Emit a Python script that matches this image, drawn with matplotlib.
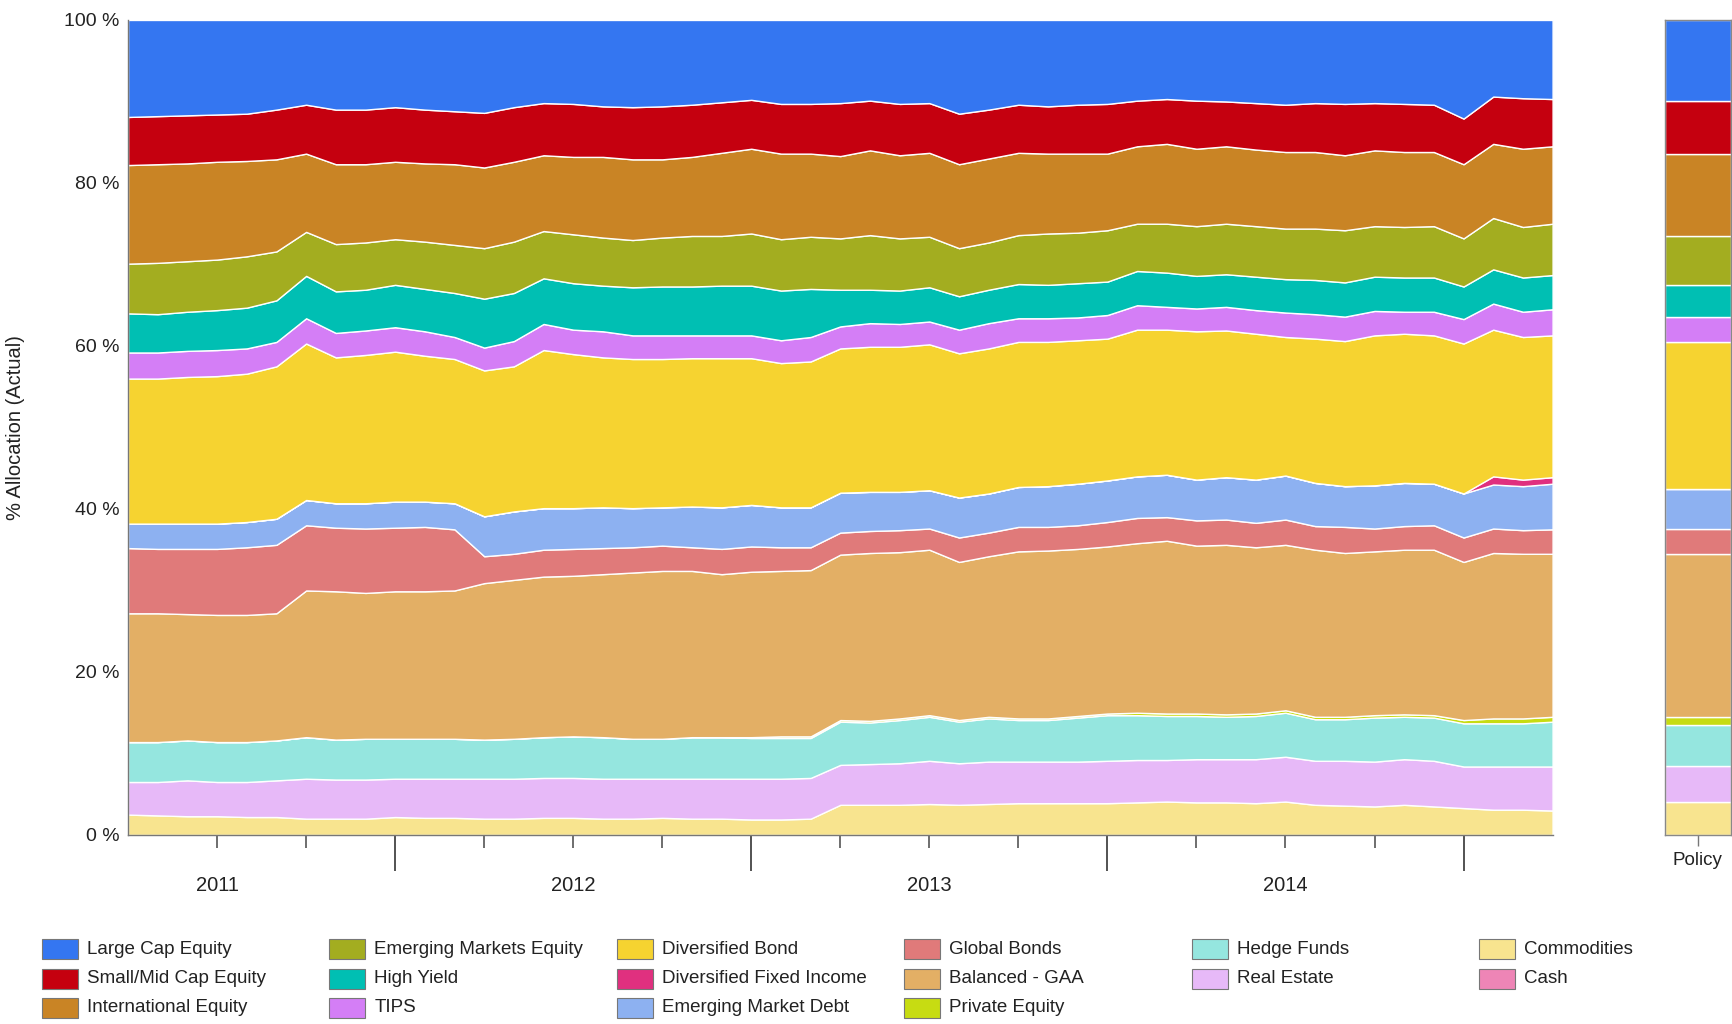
import numpy as np, pandas as pd, matplotlib
matplotlib.use('Agg')
import matplotlib.pyplot as plt
from matplotlib import font_manager
from matplotlib.patches import Rectangle
import matplotlib.transforms as mtransforms

names = {f.name for f in font_manager.fontManager.ttflist}
plt.rcParams['font.family'] = ['Liberation Sans' if 'Liberation Sans' in names else 'DejaVu Sans']

# monthly observations, Mar 2011 .. Mar 2015
months = pd.period_range('2011-03', '2015-03', freq='M')

categories = ['Large Cap Equity', 'Small/Mid Cap Equity', 'International Equity',
              'Emerging Markets Equity', 'High Yield', 'TIPS',
              'Diversified Bond', 'Diversified Fixed Income', 'Emerging Market Debt',
              'Global Bonds', 'Balanced - GAA', 'Private Equity',
              'Hedge Funds', 'Real Estate', 'Commodities', 'Cash']
colors = ['#3476F1', '#C5000F', '#C98425', '#A3AD20', '#00BFB3', '#D47EF6',
          '#F6D330', '#E0307F', '#8DB1F1', '#E07A7A', '#E3AF65', '#C7DC12',
          '#95E6DF', '#E7B9F8', '#F8E48F', '#EE85B6']

large_cap = [11.9, 11.8, 11.7, 11.6, 11.5, 11.0, 10.4, 11.0, 11.0, 10.7,
             11.0, 11.2, 11.4, 10.7, 10.2, 10.3, 10.6, 10.7, 10.6, 10.4,
             10.1, 9.8, 10.3, 10.3, 10.2, 9.9, 10.3, 10.2, 11.5, 11.0,
             10.4, 10.6, 10.4, 10.3, 9.9, 9.7, 9.9, 10.0, 10.2, 10.4,
             10.2, 10.3, 10.2, 10.3, 10.4, 12.1, 9.4, 9.6, 9.7]
small_mid = [5.9, 5.9, 5.9, 5.8, 5.8, 6.1, 6.0, 6.7, 6.7, 6.7,
             6.6, 6.5, 6.7, 6.7, 6.4, 6.5, 6.2, 6.4, 6.5, 6.4,
             6.2, 6.0, 6.1, 6.1, 6.5, 6.1, 6.3, 6.1, 6.2, 6.0,
             5.9, 5.8, 6.0, 6.1, 5.6, 5.5, 5.9, 5.5, 5.7, 5.8,
             6.0, 6.3, 5.8, 5.9, 5.8, 5.6, 5.8, 6.2, 5.8]
international = [12.1, 12.1, 12.0, 12.0, 11.7, 11.3, 9.6, 9.8, 9.6, 9.5,
                 9.6, 9.9, 9.9, 9.8, 9.3, 9.5, 9.9, 9.9, 9.6, 9.7,
                 10.2, 10.4, 10.5, 10.2, 10.1, 10.4, 10.2, 10.3, 10.3, 10.3,
                 10.1, 9.8, 9.7, 9.4, 9.5, 9.8, 9.5, 9.5, 9.4, 9.4,
                 9.4, 9.2, 9.3, 9.2, 9.1, 9.1, 9.1, 9.6, 9.5]
em_equity = [6.1, 6.3, 6.2, 6.2, 6.3, 6.0, 5.4, 5.8, 5.8, 5.6,
             5.8, 5.9, 6.2, 6.3, 5.8, 6.0, 5.9, 5.8, 6.0, 6.2,
             6.1, 6.4, 6.3, 6.4, 6.3, 6.7, 6.4, 6.2, 5.9, 5.8,
             6.0, 6.3, 6.2, 6.3, 5.8, 6.0, 6.1, 6.2, 6.2, 6.2,
             6.3, 6.4, 6.2, 6.2, 6.3, 5.9, 6.3, 6.2, 6.3]
high_yield = [4.8, 4.7, 4.8, 4.9, 5.0, 5.1, 5.2, 5.1, 5.0, 5.2,
              5.2, 5.4, 6.0, 5.9, 5.6, 5.7, 5.6, 5.9, 6.0, 6.0,
              6.1, 6.1, 6.1, 5.9, 4.5, 4.1, 4.1, 4.2, 4.1, 4.1,
              4.2, 4.1, 4.2, 4.1, 4.2, 4.2, 4.0, 4.0, 4.1, 4.1,
              4.2, 4.2, 4.2, 4.2, 4.2, 4.0, 4.2, 4.2, 4.2]
tips = [3.2, 3.2, 3.2, 3.2, 3.1, 3.0, 3.1, 3.0, 3.0, 3.0,
        3.0, 2.7, 2.8, 3.1, 3.2, 3.0, 3.2, 2.9, 2.9, 2.8,
        2.8, 2.8, 2.8, 3.0, 2.7, 2.9, 2.8, 2.8, 2.9, 3.1,
        2.9, 2.9, 2.8, 2.9, 3.0, 2.8, 2.8, 2.9, 2.9, 3.0,
        3.0, 3.0, 3.0, 2.7, 2.9, 3.0, 3.2, 3.1, 3.2]
div_bond = [17.8, 17.8, 18.0, 18.1, 18.2, 18.7, 19.2, 17.9, 18.2, 18.4,
            17.9, 17.7, 17.9, 17.8, 19.4, 18.9, 18.4, 18.3, 18.2, 18.2,
            18.3, 18.0, 17.7, 17.9, 17.7, 17.8, 17.8, 17.9, 17.7, 17.8,
            17.8, 17.7, 17.6, 17.4, 18.0, 17.8, 18.2, 18.0, 17.9, 17.0,
            17.7, 17.8, 18.4, 18.3, 18.2, 18.4, 18.0, 17.5, 17.4]
div_fixed_income = [0, 0, 0, 0, 0, 0, 0, 0, 0, 0,
                    0, 0, 0, 0, 0, 0, 0, 0, 0, 0,
                    0, 0, 0, 0, 0, 0, 0, 0, 0, 0,
                    0, 0, 0, 0, 0, 0, 0, 0, 0, 0,
                    0, 0, 0, 0, 0, 0, 1.0, 0.8, 0.8]
em_debt = [3.0, 3.1, 3.1, 3.1, 3.1, 3.2, 3.1, 3.0, 3.1, 3.2,
           3.1, 3.2, 4.9, 5.2, 5.1, 5.0, 5.0, 4.8, 4.7, 5.0,
           5.1, 5.1, 4.9, 4.9, 4.9, 4.8, 4.7, 4.7, 4.9, 4.8,
           4.9, 5.0, 5.1, 5.1, 5.1, 5.2, 5.0, 5.2, 5.3, 5.4,
           5.3, 5.0, 5.3, 5.3, 5.1, 5.4, 5.4, 5.4, 5.6]
global_bonds = [8.0, 7.9, 8.0, 8.1, 8.3, 8.4, 8.0, 7.8, 7.9, 7.8,
                7.9, 7.5, 3.3, 3.2, 3.3, 3.3, 3.2, 3.1, 3.1, 2.9,
                3.1, 3.1, 2.9, 2.8, 2.7, 2.7, 2.7, 2.6, 3.0, 2.9,
                3.0, 2.9, 2.9, 3.0, 3.1, 2.9, 3.1, 3.1, 3.0, 3.1,
                2.9, 3.2, 2.8, 2.9, 3.0, 3.0, 3.0, 2.9, 3.0]
balanced_gaa = [15.8, 15.8, 15.5, 15.6, 15.6, 15.6, 18.0, 18.2, 17.9, 18.1,
                18.1, 18.2, 19.2, 19.5, 19.7, 19.7, 20.0, 20.4, 20.6, 20.4,
                20.0, 20.3, 20.3, 20.4, 20.3, 20.6, 20.4, 20.3, 19.4, 19.7,
                20.5, 20.6, 20.5, 20.5, 20.8, 21.2, 20.6, 20.8, 20.4, 20.3,
                20.5, 20.1, 20.1, 20.2, 20.3, 19.4, 20.3, 20.2, 20.0]
private_equity = [0, 0, 0, 0, 0, 0, 0, 0, 0, 0,
                  0, 0, 0, 0, 0, 0, 0, 0, 0, 0,
                  0, 0.1, 0.2, 0.2, 0.2, 0.2, 0.2, 0.2, 0.2, 0.2,
                  0.2, 0.2, 0.2, 0.2, 0.3, 0.3, 0.3, 0.3, 0.3, 0.3,
                  0.3, 0.3, 0.3, 0.3, 0.3, 0.4, 0.6, 0.6, 0.6]
hedge_funds = [4.9, 4.9, 4.9, 4.9, 4.9, 4.9, 5.1, 4.9, 5.0, 4.9,
               4.9, 4.9, 4.8, 4.9, 5.0, 5.1, 5.1, 4.9, 4.9, 5.1,
               5.1, 5.0, 5.0, 4.9, 5.3, 5.1, 5.3, 5.4, 5.1, 5.3,
               5.1, 5.1, 5.4, 5.6, 5.5, 5.4, 5.3, 5.2, 5.3, 5.4,
               5.1, 5.1, 5.4, 5.2, 5.3, 5.3, 5.3, 5.3, 5.5]
real_estate = [4.0, 4.1, 4.4, 4.2, 4.3, 4.5, 4.9, 4.8, 4.8, 4.7,
               4.8, 4.8, 4.9, 4.9, 4.9, 4.9, 4.9, 4.9, 4.8, 4.9,
               4.9, 5.0, 5.0, 5.0, 4.9, 5.0, 5.1, 5.3, 5.1, 5.2,
               5.1, 5.1, 5.1, 5.2, 5.2, 5.1, 5.3, 5.3, 5.4, 5.5,
               5.4, 5.5, 5.5, 5.6, 5.6, 5.1, 5.3, 5.3, 5.4]
commodities = [2.5, 2.4, 2.3, 2.3, 2.2, 2.2, 2.0, 2.0, 2.0, 2.2,
               2.1, 2.1, 2.0, 2.0, 2.1, 2.1, 2.0, 2.0, 2.1, 2.0,
               2.0, 1.9, 1.9, 2.0, 3.7, 3.7, 3.7, 3.8, 3.7, 3.8,
               3.9, 3.9, 3.9, 3.9, 4.0, 4.1, 4.0, 4.0, 3.9, 4.1,
               3.7, 3.6, 3.5, 3.7, 3.5, 3.3, 3.1, 3.1, 3.0]
cash = [0] * 49

policy = [10, 6.5, 10, 6, 4, 3, 18, 0, 5, 3, 20, 1, 5, 4.5, 4, 0]

series = [large_cap, small_mid, international, em_equity, high_yield, tips,
          div_bond, div_fixed_income, em_debt, global_bonds, balanced_gaa,
          private_equity, hedge_funds, real_estate, commodities, cash]

x = months.year + months.month / 12.0

fig = plt.figure(figsize=(17.33, 10.24), dpi=100)
ax = fig.add_axes([0.0739, 0.1846, 0.822, 0.7959])
ax.stackplot(x, *series[::-1], colors=colors[::-1], edgecolor='white', linewidth=1.0)
ax.set_xlim(x[0], x[-1])
ax.set_ylim(0, 100)

ax.set_yticks(range(0, 101, 20))
ax.set_yticklabels([f'{v} %' for v in range(0, 101, 20)], fontsize=14, color='#222222')
ax.tick_params(axis='y', length=0, pad=6)
ax.set_ylabel('% Allocation (Actual)', fontsize=14.5, color='#222222', labelpad=28)

years = [2011, 2012, 2013, 2014]
ax.set_xticks([y + 1 for y in years])
ax.set_xticklabels([])
ax.set_xticks(np.arange(2011.5, 2015.25, 0.25), minor=True)
ax.tick_params(axis='x', which='major', length=26, width=1.3, color='#444444')
ax.tick_params(axis='x', which='minor', length=9, width=1.2, color='#555555')
trans = mtransforms.blended_transform_factory(ax.transData, ax.transAxes)
for y in years:
    ax.text(y + 0.5, -0.062, str(y), transform=trans, ha='center', va='center',
            fontsize=14.5, color='#222222')

for s in ['top', 'right']:
    ax.spines[s].set_visible(False)
for s in ['left', 'bottom']:
    ax.spines[s].set_color('#777777')
    ax.spines[s].set_linewidth(1.0)

# policy bar
ax2 = fig.add_axes([0.9605, 0.1846, 0.0385, 0.7959])
bottom = 0
for val, c in zip(policy[::-1], colors[::-1]):
    ax2.bar(0, val, bottom=bottom, width=1.0, color=c, edgecolor='white', linewidth=1.0)
    bottom += val
ax2.set_xlim(-0.5, 0.5)
ax2.set_ylim(0, 100)
ax2.set_yticks([])
ax2.set_xticks([0])
ax2.set_xticklabels(['Policy'], fontsize=13.5, color='#222222')
ax2.tick_params(axis='x', length=8, width=1.0, color='#777777', pad=4)
for s in ax2.spines.values():
    s.set_color('#888888')
    s.set_linewidth(1.0)

# legend, column-wise like the original
W, H = 1733.0, 1024.0
for k, (name, c) in enumerate(zip(categories, colors)):
    if k < 12:
        col, row = k // 3, k % 3
    else:
        col, row = 4 + (k - 12) // 2, (k - 12) % 2
    px = 42 + col * 287.4
    py = 949 + row * 29.5
    fig.add_artist(Rectangle((px / W, 1 - (py + 10) / H), 36 / W, 20 / H,
                             facecolor=c, edgecolor='#777777', linewidth=0.8,
                             transform=fig.transFigure))
    fig.text((px + 45) / W, 1 - py / H, name, fontsize=13.5, color='#222222',
             ha='left', va='center')

fig.savefig('out.png', dpi=100)
